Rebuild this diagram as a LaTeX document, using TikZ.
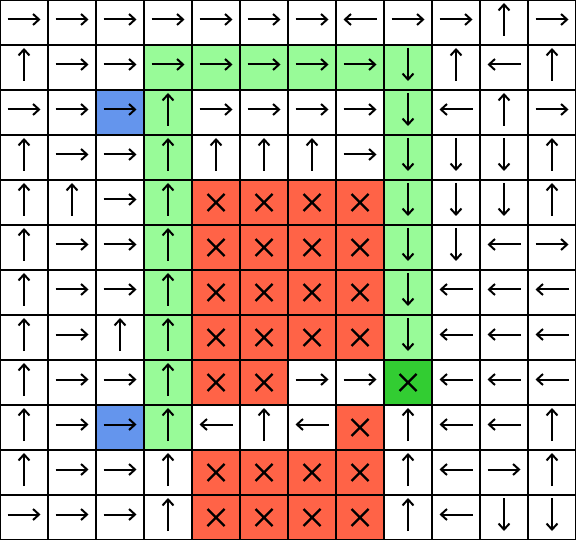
\documentclass[tikz,border=0pt]{standalone}
\usetikzlibrary{arrows.meta}
\definecolor{fillw}{HTML}{FFFFFF}
\definecolor{fillg}{HTML}{98FB98}
\definecolor{fillb}{HTML}{6495ED}
\definecolor{fillt}{HTML}{FF6347}
\definecolor{filld}{HTML}{32CD32}
\tikzset{
  cell/.style={rectangle,minimum width=48pt,minimum height=45pt,inner sep=0pt,outer sep=0pt,draw=none},
  arrowline/.style={line width=2pt,-{Straight Barb[length=6pt,width=11pt]}},
  crossline/.style={line width=2.4pt},
  gridline/.style={line width=2pt,black}
}
\newcommand\symR[1]{\draw[arrowline] ([shift={(-16.5pt,3pt)}]#1.center) -- ([shift={(16.5pt,3pt)}]#1.center);}
\newcommand\symL[1]{\draw[arrowline] ([shift={(16.5pt,3pt)}]#1.center) -- ([shift={(-16.5pt,3pt)}]#1.center);}
\newcommand\symU[1]{\draw[arrowline] ([shift={(0pt,-13.5pt)}]#1.center) -- ([shift={(0pt,19.5pt)}]#1.center);}
\newcommand\symD[1]{\draw[arrowline] ([shift={(0pt,19.5pt)}]#1.center) -- ([shift={(0pt,-13.5pt)}]#1.center);}
\newcommand\symX[1]{\draw[crossline] ([shift={(-8.5pt,-8.5pt)}]#1.center) -- ([shift={(8.5pt,8.5pt)}]#1.center) ([shift={(-8.5pt,8.5pt)}]#1.center) -- ([shift={(8.5pt,-8.5pt)}]#1.center);}
\begin{document}
\begin{tikzpicture}[x=48pt,y=-45pt]
\useasboundingbox (0,0) rectangle (12,12);
\foreach \row [count=\r from 0] in {
 {w/R,w/R,w/R,w/R,w/R,w/R,w/R,w/L,w/R,w/R,w/U,w/R},
 {w/U,w/R,w/R,g/R,g/R,g/R,g/R,g/R,g/D,w/U,w/L,w/U},
 {w/R,w/R,b/R,g/U,w/R,w/R,w/R,w/R,g/D,w/L,w/U,w/R},
 {w/U,w/R,w/R,g/U,w/U,w/U,w/U,w/R,g/D,w/D,w/D,w/U},
 {w/U,w/U,w/R,g/U,t/X,t/X,t/X,t/X,g/D,w/D,w/D,w/U},
 {w/U,w/R,w/R,g/U,t/X,t/X,t/X,t/X,g/D,w/D,w/L,w/R},
 {w/U,w/R,w/R,g/U,t/X,t/X,t/X,t/X,g/D,w/L,w/L,w/L},
 {w/U,w/R,w/U,g/U,t/X,t/X,t/X,t/X,g/D,w/L,w/L,w/L},
 {w/U,w/R,w/R,g/U,t/X,t/X,w/R,w/R,d/X,w/L,w/L,w/L},
 {w/U,w/R,b/R,g/U,w/L,w/U,w/L,t/X,w/U,w/L,w/L,w/U},
 {w/U,w/R,w/R,w/U,t/X,t/X,t/X,t/X,w/U,w/L,w/R,w/U},
 {w/R,w/R,w/R,w/U,t/X,t/X,t/X,t/X,w/U,w/L,w/D,w/D}}{
  \foreach \f/\s [count=\c from 0] in \row {
    \node[cell,fill=fill\f] (c-\r-\c) at (\c+0.5,\r+0.5) {};
  }
}
\foreach \i in {0,...,12}{
  \draw[gridline] (\i,0) -- (\i,12);
  \draw[gridline] (0,\i) -- (12,\i);
}
\foreach \row [count=\r from 0] in {
 {R,R,R,R,R,R,R,L,R,R,U,R},
 {U,R,R,R,R,R,R,R,D,U,L,U},
 {R,R,R,U,R,R,R,R,D,L,U,R},
 {U,R,R,U,U,U,U,R,D,D,D,U},
 {U,U,R,U,X,X,X,X,D,D,D,U},
 {U,R,R,U,X,X,X,X,D,D,L,R},
 {U,R,R,U,X,X,X,X,D,L,L,L},
 {U,R,U,U,X,X,X,X,D,L,L,L},
 {U,R,R,U,X,X,R,R,X,L,L,L},
 {U,R,R,U,L,U,L,X,U,L,L,U},
 {U,R,R,U,X,X,X,X,U,L,R,U},
 {R,R,R,U,X,X,X,X,U,L,D,D}}{
  \foreach \s [count=\c from 0] in \row {
    \csname sym\s\endcsname{c-\r-\c}
  }
}
\end{tikzpicture}
\end{document}
